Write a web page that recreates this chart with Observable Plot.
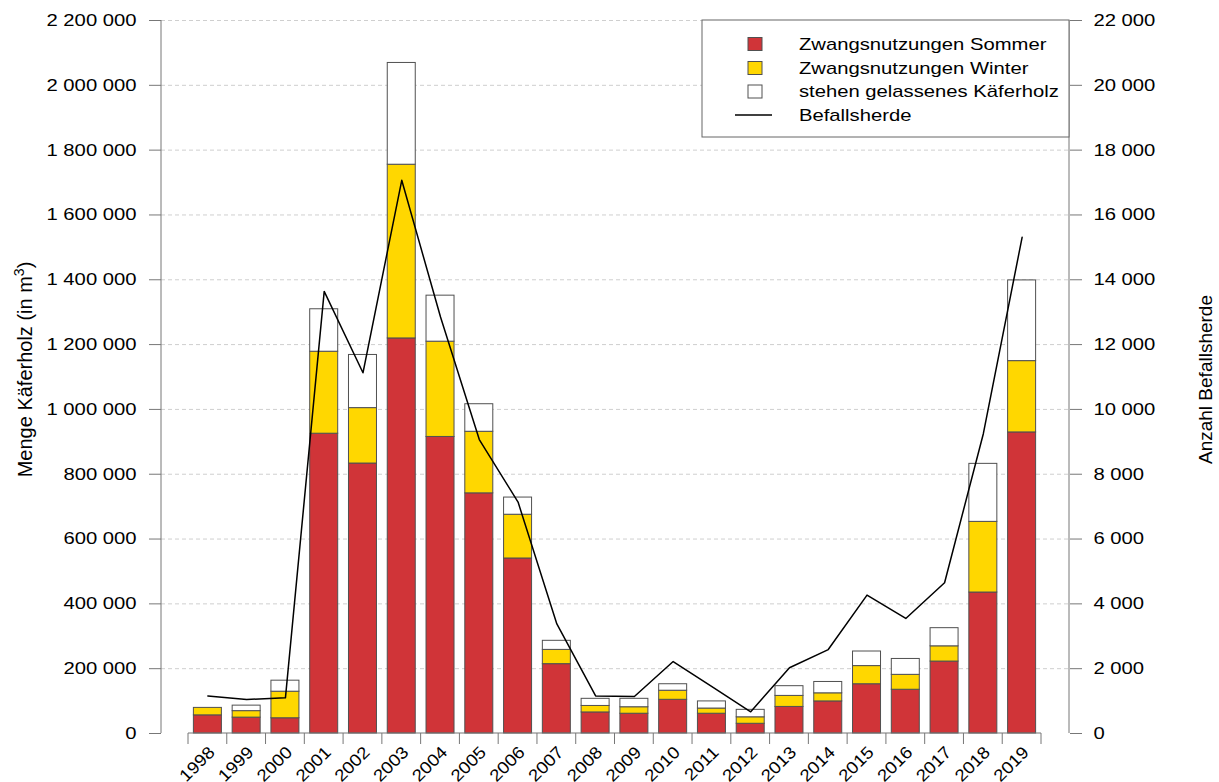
<!DOCTYPE html>
<html><head><meta charset="utf-8">
<script src="https://cdn.jsdelivr.net/npm/d3@7"></script>
<script src="https://cdn.jsdelivr.net/npm/@observablehq/plot@0.6"></script>
<style>
body{margin:0;background:#fff;}
#chart svg{display:block;}
</style></head><body><div id="chart"></div>
<script>
const years = ["1998","1999","2000","2001","2002","2003","2004","2005","2006","2007","2008","2009","2010","2011","2012","2013","2014","2015","2016","2017","2018","2019"];
const sommer = [56000,49000,47000,925000,833000,1219000,915000,741000,540000,214000,65000,61000,104000,61000,30000,82000,99000,152000,135000,222000,435000,929000];
const winter = [23000,20000,82000,253000,171000,536000,294000,190000,135000,44000,20000,20000,28000,16000,20000,34000,25000,56000,46000,47000,218000,220000];
const stehen = [0,17000,34000,131000,164000,314000,142000,85000,53000,28000,22000,26000,20000,22000,23000,30000,35000,45000,49000,56000,179000,249000];
const herde = [1160,1050,1100,13640,11130,17070,12850,9070,7140,3380,1160,1140,2220,1450,670,2030,2590,4270,3550,4650,9250,15310];
const leftTicks = [0,200000,400000,600000,800000,1000000,1200000,1400000,1600000,1800000,2000000,2200000];
const rightTicks = [0,2000,4000,6000,8000,10000,12000,14000,16000,18000,20000,22000];
const seriesNames = ["Zwangsnutzungen Sommer","Zwangsnutzungen Winter","stehen gelassenes Käferholz"];
const seriesColors = ["#D03438","#FFD700","#FFFFFF"];
const lineName = "Befallsherde";
const leftTitle = "Menge Käferholz (in m";
const leftTitleSup = "3";
const rightTitle = "Anzahl Befallsherde";

const ratio = leftTicks[leftTicks.length-1] / rightTicks[rightTicks.length-1];
const seriesValues = [sommer, winter, stehen];
const rows = [];
years.forEach((yr, i) => seriesNames.forEach((s, k) => rows.push({year: yr, series: s, value: seriesValues[k][i]})));
const herdeRows = years.map((yr, i) => ({year: yr, value: herde[i]}));
const fmt = v => d3.format(",")(v).replace(/,/g, " ");

const plot = Plot.plot({
  width: 1219, height: 782,
  marginLeft: 161, marginRight: 150, marginTop: 20, marginBottom: 49,
  style: {fontFamily: "'Liberation Sans', Arial, sans-serif", fontSize: "17px", background: "#fff", color: "#000", overflow: "visible"},
  x: {type: "band", domain: years, range: [188, 1041], paddingInner: 0.278, paddingOuter: 0.139, round: false, axis: null},
  y: {domain: [0, 2200000], axis: null},
  color: {domain: seriesNames, range: seriesColors},
  marks: [
    Plot.gridY(leftTicks.slice(1), {stroke: "#cfcfcf", strokeOpacity: 1, strokeDasharray: "4,3", strokeWidth: 1}),
    Plot.barY(rows, Plot.stackY({x: "year", y: "value", fill: "series", stroke: "#505050", strokeWidth: 1, order: seriesNames})),
    Plot.line(herdeRows, {x: "year", y: d => d.value * ratio, stroke: "#000", strokeWidth: 1.5}),
    Plot.axisY(leftTicks, {anchor: "left", label: null, tickFormat: fmt, tickSize: 12, tickPadding: 13, stroke: "#777", fill: "#000"}),
    Plot.axisY(rightTicks.map(v => v * ratio), {anchor: "right", label: null, tickFormat: d => fmt(Math.round(d / ratio)), tickSize: 12, tickPadding: 12, stroke: "#777", fill: "#000"}),
    Plot.text(years, {x: d => d, y: 0, text: d => d, rotate: -45, textAnchor: "end", dx: 4, dy: 16, fill: "#000"})
  ]
});
document.getElementById("chart").append(plot);

const svg = d3.select(plot);
const xs = plot.scale("x"), ys = plot.scale("y");
const y0 = ys.apply(0), yTop = ys.apply(leftTicks[leftTicks.length-1]);
const xr = xs.range;
const step = (xr[1] - xr[0]) / years.length;
const lineColor = "#777";

// stretch horizontal texts to match the reference's wide glyphs
svg.selectAll("text").each(function(){
  const t = this.getAttribute("transform") || "";
  const f = t.includes("rotate") ? 1.1 : 1.19;
  const L = this.getComputedTextLength();
  this.setAttribute("textLength", L * f);
  this.setAttribute("lengthAdjust", "spacingAndGlyphs");
});

const g = svg.append("g");
// axis lines
g.append("line").attr("x1", 161).attr("x2", 161).attr("y1", yTop).attr("y2", y0).attr("stroke", lineColor);
g.append("line").attr("x1", 1069).attr("x2", 1069).attr("y1", yTop).attr("y2", y0).attr("stroke", lineColor);
g.append("line").attr("x1", xr[0]).attr("x2", xr[1]).attr("y1", y0).attr("y2", y0).attr("stroke", lineColor);
for (let i = 0; i <= years.length; i++) {
  const x = xr[0] + i * step;
  g.append("line").attr("x1", x).attr("x2", x).attr("y1", y0).attr("y2", y0 + 11).attr("stroke", lineColor);
}

// legend
const lg = svg.append("g").attr("text-anchor", "start");
lg.append("rect").attr("x", 702).attr("y", yTop).attr("width", 1069 - 702).attr("height", 117).attr("fill", "#fff").attr("stroke", "#666");
const rowY = [44, 68, 91.5, 115];
seriesNames.forEach((s, k) => {
  lg.append("rect").attr("x", 748).attr("y", rowY[k] - 6.5).attr("width", 14).attr("height", 13).attr("fill", seriesColors[k]).attr("stroke", "#505050");
  lg.append("text").attr("x", 799).attr("y", rowY[k]).attr("dy", "0.35em").attr("text-anchor", "start").attr("font-size", 17).attr("fill", "#000").text(s);
});
lg.append("line").attr("x1", 735).attr("x2", 772).attr("y1", rowY[3]).attr("y2", rowY[3]).attr("stroke", "#000").attr("stroke-width", 1.5);
lg.append("text").attr("x", 799).attr("y", rowY[3]).attr("dy", "0.35em").attr("text-anchor", "start").attr("font-size", 17).attr("fill", "#000").text(lineName);
lg.selectAll("text").each(function(){
  const L = this.getComputedTextLength();
  this.setAttribute("textLength", L * 1.19);
  this.setAttribute("lengthAdjust", "spacingAndGlyphs");
});

// axis titles
const lt = svg.append("text").attr("transform", `translate(25,${(y0 + yTop) / 2 - 7}) rotate(-90)`).attr("text-anchor", "middle").attr("dy", "0.35em").attr("font-size", 20).attr("fill", "#000");
lt.append("tspan").text(leftTitle);
lt.append("tspan").attr("baseline-shift", "super").attr("font-size", 14).text(leftTitleSup);
lt.append("tspan").text(")");
svg.append("text").attr("transform", `translate(1205,${(y0 + yTop) / 2 + 3}) rotate(-90)`).attr("text-anchor", "middle").attr("dy", "0.35em").attr("font-size", 19).attr("fill", "#000").text(rightTitle);
</script></body></html>
